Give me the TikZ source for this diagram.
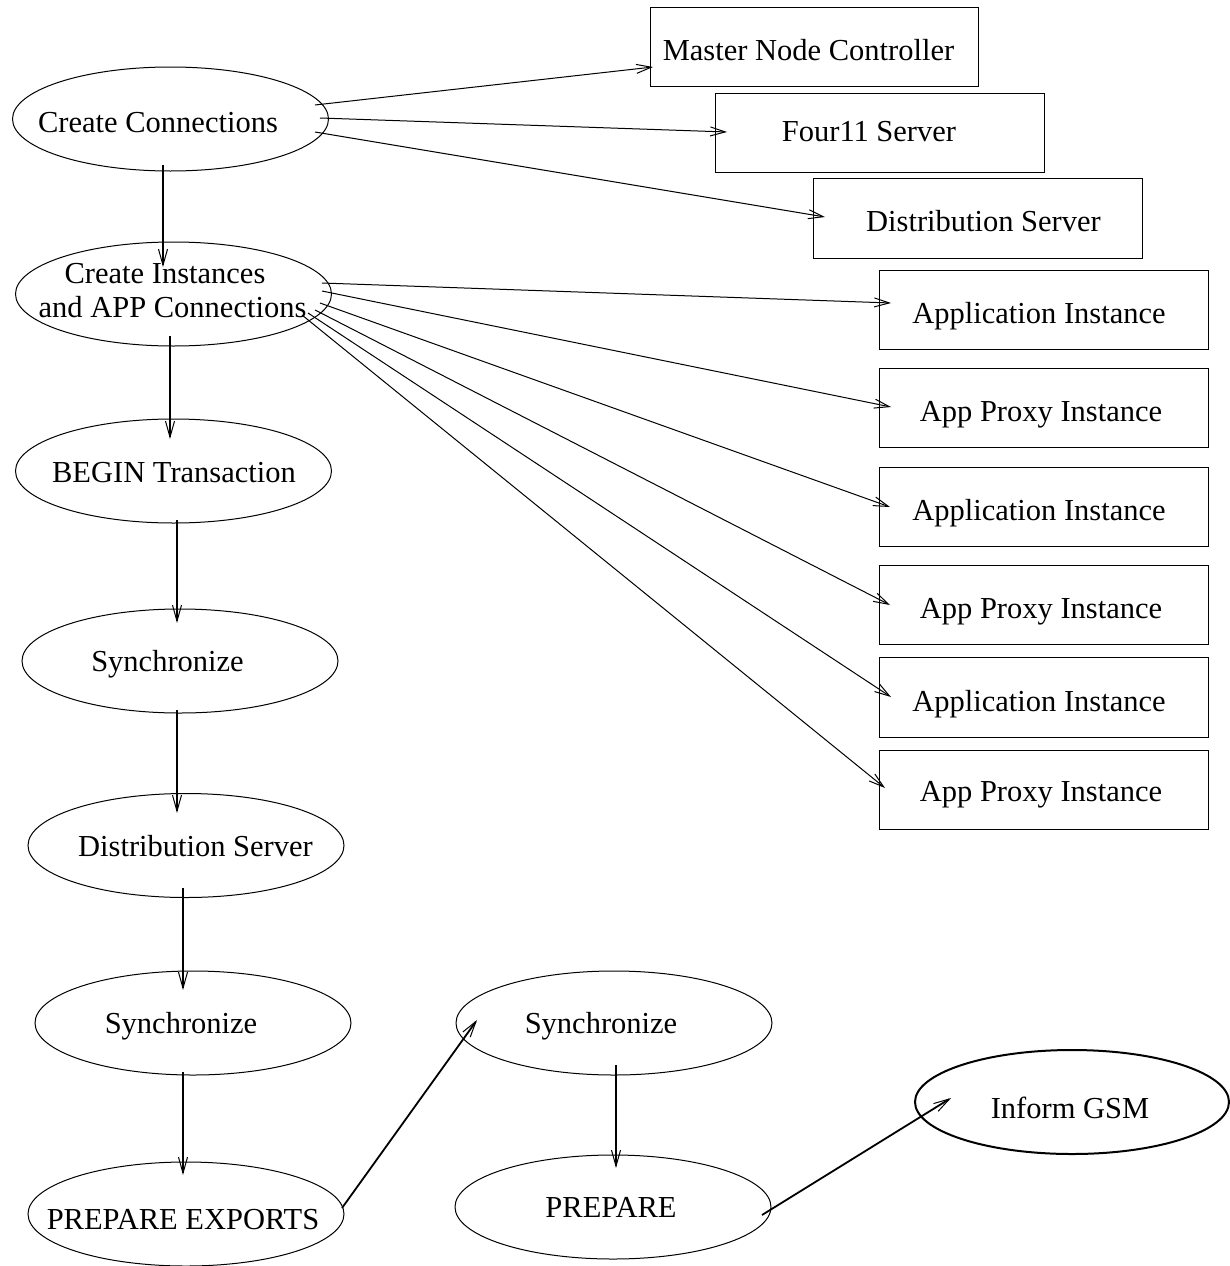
\documentclass[tikz,border=0pt]{standalone}
\usepackage{fontspec}
\setmainfont{Liberation Serif}
\usetikzlibrary{arrows.meta,shapes.geometric,calc}
\begin{document}
\begin{tikzpicture}[x=1pt,y=-1pt,
  ell/.style={draw,ellipse,minimum width=316pt,minimum height=104pt,inner sep=0pt,line width=1pt},
  boldell/.style={ell,line width=2pt},
  box/.style={draw,rectangle,minimum width=329pt,minimum height=79pt,inner sep=0pt,line width=1pt},
  txt/.style={inner sep=0pt,anchor=base,font=\fontsize{30.5}{36}\selectfont},
  thinarr/.style={line width=1pt,-{Straight Barb[length=15pt,width=9pt,line width=1pt]}},
  thickarr/.style={line width=1.8pt,-{Straight Barb[length=16pt,width=9pt,line width=1pt]}}]
\useasboundingbox (0,0) rectangle (1230,1266);

% ellipses
\node[ell] (cc) at (170.5,119) {};
\node[ell] (ci) at (173.5,294) {};
\node[ell] (bt) at (173.5,471) {};
\node[ell] (s1) at (180,661) {};
\node[ell] (ds) at (186,845.5) {};
\node[ell] (s2) at (193,1023) {};
\node[ell] (pe) at (186,1214) {};
\node[ell] (s3) at (614,1023) {};
\node[ell] (pr) at (613,1207) {};
\node[boldell,minimum width=314pt] (gsm) at (1072,1102) {};

% boxes
\node[box,minimum width=328pt] (mnc) at (814,46.5) {};
\node[box] (f11) at (879.5,132.5) {};
\node[box,minimum height=80pt] (dsv) at (978,218) {};
\node[box] (app1) at (1043.5,309.5) {};
\node[box] (px1) at (1043.5,407.5) {};
\node[box] (app2) at (1043.5,506.5) {};
\node[box] (px2) at (1043.5,604.5) {};
\node[box,minimum height=80pt] (app3) at (1043.5,697) {};
\node[box] (px3) at (1043.5,789.5) {};

% texts
\node[txt] (t-cc) at (158,132) {Create Connections};
\node[txt] (t-ci1) at (165,283) {Create Instances};
\node[txt] (t-ci2) at (172.5,317) {and APP Connections};
\node[txt] (t-bt) at (174,482) {BEGIN Transaction};
\node[txt] (t-s1) at (167.5,671) {Synchronize};
\node[txt] (t-ds) at (195.5,856) {Distribution Server};
\node[txt] (t-s2) at (181,1033) {Synchronize};
\node[txt] (t-pe) at (183,1229) {PREPARE EXPORTS};
\node[txt] (t-s3) at (601,1033) {Synchronize};
\node[txt] (t-pr) at (611,1217) {PREPARE};
\node[txt] (t-gsm) at (1070,1118) {Inform GSM};
\node[txt] (t-mnc) at (808.5,60) {Master Node Controller};
\node[txt] (t-f11) at (869,141) {Four11 Server};
\node[txt] (t-dsv) at (983.5,231) {Distribution Server};
\node[txt] (t-app1) at (1039,323) {Application Instance};
\node[txt] (t-px1) at (1041,421) {App Proxy Instance};
\node[txt] (t-app2) at (1039,520) {Application Instance};
\node[txt] (t-px2) at (1041,618) {App Proxy Instance};
\node[txt] (t-app3) at (1039,711) {Application Instance};
\node[txt] (t-px3) at (1041,801) {App Proxy Instance};

% connectors from Create Connections
\draw[thinarr] ($(cc)+(144.5,-14)$) -- ($(mnc)+(-161,20.5)$);
\draw[thinarr] ($(cc)+(149.5,-1)$) -- ($(f11)+(-152.5,-0.5)$);
\draw[thinarr] ($(cc)+(144.5,13)$) -- ($(dsv)+(-153,-1)$);
\draw[thickarr] ($(cc)+(-7.5,46)$) -- ($(ci)+(-10.5,-27)$);

% connectors from Create Instances
\draw[thinarr] ($(ci)+(148.5,-11)$) -- ($(app1)+(-152.5,-6.5)$);
\draw[thinarr] ($(ci)+(148.5,-3)$) -- ($(px1)+(-152.5,-0.5)$);
\draw[thinarr] ($(ci)+(146.5,9)$) -- ($(app2)+(-153.5,0.5)$);
\draw[thinarr] ($(ci)+(141.5,16)$) -- ($(px2)+(-153.5,0.5)$);
\draw[thinarr] ($(ci)+(134.5,19)$) -- ($(app3)+(-152.5,0)$);
\draw[thinarr] ($(ci)+(128.5,21)$) -- ($(px3)+(-158.5,-1.5)$);

% main chain
\draw[thickarr] ($(ci)+(-3.5,42)$) -- ($(bt)+(-3.5,-32)$);
\draw[thickarr] ($(bt)+(3.5,49)$) -- ($(s1)+(-3,-38)$);
\draw[thickarr] ($(s1)+(-3,49)$) -- ($(ds)+(-9,-32.5)$);
\draw[thickarr] ($(ds)+(-3,42.5)$) -- ($(s2)+(-10,-33)$);
\draw[thickarr] ($(s2)+(-10,49)$) -- ($(pe)+(-3,-39)$);
\draw[thickarr] ($(pe)+(156,-6)$) -- ($(s3)+(-137,-3)$);
\draw[thickarr] ($(s3)+(2,42)$) -- ($(pr)+(3,-39)$);
\draw[thickarr] ($(pr)+(149,8)$) -- ($(gsm)+(-121,-4)$);
\end{tikzpicture}
\end{document}
